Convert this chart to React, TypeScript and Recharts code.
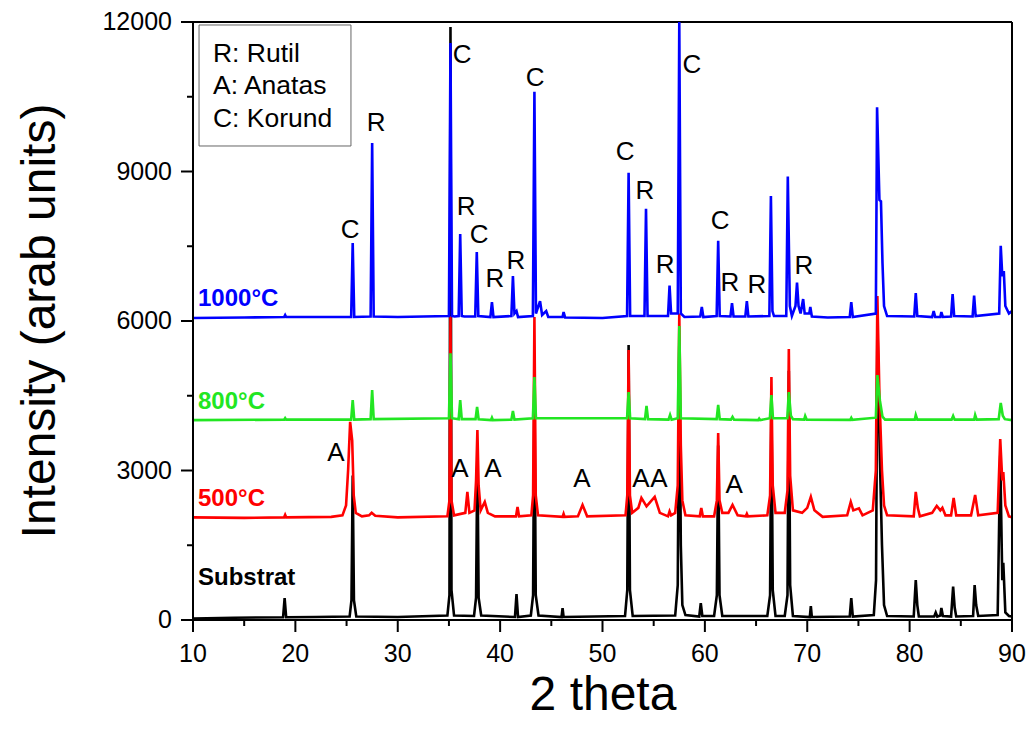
import React from 'react';
import { LineChart, Line, XAxis, YAxis, ReferenceDot, ReferenceArea, ReferenceLine } from 'recharts';

const FONT = '"Liberation Sans", Arial, Helvetica, sans-serif';

// 2 theta / intensity pairs, one list per sample
const substrat = [
  [10, 30], [14, 45], [18.8, 55], [18.95, 440], [19.1, 55], [22, 60], [25.3, 70], [25.48, 400], [25.6, 2900],
  [25.72, 400], [25.95, 70], [30, 60], [34.85, 90], [35.05, 500], [35.15, 11900], [35.25, 600], [35.5, 90],
  [37.45, 80], [37.65, 450], [37.78, 3400], [37.9, 450], [38.15, 90], [41.45, 60], [41.6, 520], [41.75, 60],
  [43.0, 90], [43.22, 500], [43.35, 4800], [43.48, 500], [43.75, 90], [46.0, 60], [46.1, 240], [46.2, 60],
  [52.2, 80], [52.42, 600], [52.55, 5520], [52.68, 600], [52.95, 80], [57.1, 90], [57.35, 700], [57.5, 5500],
  [57.65, 1500], [57.8, 300], [58.1, 100], [59.45, 70], [59.6, 340], [59.75, 80], [60.9, 80], [61.17, 500],
  [61.3, 3500], [61.43, 500], [61.7, 80], [66.1, 80], [66.37, 500], [66.5, 4500], [66.63, 600], [66.9, 80],
  [67.8, 80], [68.07, 500], [68.2, 5000], [68.33, 700], [68.6, 80], [70.25, 60], [70.35, 280], [70.45, 60],
  [74.15, 70], [74.3, 440], [74.45, 70], [76.5, 100], [76.72, 800], [76.85, 6000], [77.1, 3200], [77.3, 1500],
  [77.5, 300], [77.8, 80], [80.4, 70], [80.6, 800], [80.75, 300], [80.9, 70], [82.4, 70], [82.55, 150],
  [82.7, 70], [83.0, 90], [83.1, 240], [83.25, 80], [84.05, 70], [84.25, 670], [84.4, 250], [84.55, 70],
  [86.2, 80], [86.35, 700], [86.5, 300], [86.7, 80], [88.6, 100], [88.85, 3300], [89.05, 800], [89.15, 1150],
  [89.35, 150], [89.7, 80], [90, 70],
];

const c500 = [
  [10, 2060], [15, 2050], [18.9, 2060], [19.0, 2110], [19.1, 2060], [23.5, 2070], [24.6, 2100], [24.95, 2300],
  [25.15, 3000], [25.35, 3975], [25.55, 3600], [25.7, 2500], [25.9, 2150], [26.5, 2080], [27.2, 2100],
  [27.45, 2150], [27.8, 2090], [30, 2060], [34.85, 2080], [35.05, 2400], [35.15, 6100], [35.25, 2400],
  [35.5, 2100], [36.6, 2150], [36.8, 2570], [37.0, 2150], [37.5, 2200], [37.65, 2800], [37.78, 3810],
  [37.9, 2700], [38.1, 2200], [38.5, 2370], [38.8, 2150], [39.5, 2080], [41.55, 2080], [41.7, 2270],
  [41.85, 2080], [43.05, 2100], [43.22, 2500], [43.35, 6080], [43.48, 2500], [43.7, 2100], [46.1, 2070],
  [46.2, 2130], [46.3, 2070], [47.6, 2080], [48.05, 2310], [48.5, 2080], [52.25, 2100], [52.42, 2500],
  [52.55, 5420], [52.68, 2500], [52.9, 2150], [53.5, 2250], [53.8, 2450], [54.3, 2280], [55.1, 2470],
  [55.6, 2150], [56.4, 2080], [56.55, 2180], [56.7, 2100], [57.1, 2150], [57.35, 2700], [57.5, 6150],
  [57.65, 3500], [57.8, 2400], [58.1, 2100], [59.5, 2080], [59.65, 2250], [59.8, 2080], [60.9, 2080],
  [61.17, 2400], [61.3, 3750], [61.43, 2400], [61.7, 2150], [62.3, 2150], [62.7, 2310], [63.2, 2100],
  [64.0, 2080], [64.1, 2130], [64.2, 2080], [66.1, 2100], [66.37, 2500], [66.5, 4875], [66.63, 2700],
  [66.9, 2150], [67.8, 2150], [68.07, 2600], [68.2, 5440], [68.33, 2900], [68.6, 2200], [69.5, 2150],
  [70.0, 2250], [70.35, 2470], [70.7, 2200], [71.5, 2070], [73.9, 2100], [74.25, 2370], [74.5, 2200],
  [75.05, 2240], [75.4, 2100], [76.4, 2200], [76.7, 3000], [76.85, 6500], [77.05, 4500], [77.3, 3000],
  [77.5, 2300], [77.8, 2100], [80.4, 2080], [80.6, 2570], [80.8, 2250], [81.0, 2080], [82.2, 2150],
  [82.65, 2290], [83.0, 2200], [83.2, 2250], [83.5, 2100], [84.05, 2100], [84.3, 2450], [84.55, 2100],
  [86.0, 2100], [86.4, 2510], [86.7, 2100], [88.6, 2150], [88.85, 3630], [89.05, 2800], [89.15, 2970],
  [89.35, 2300], [89.7, 2080], [90, 2060],
];

const c800 = [
  [10, 4010], [18.9, 4020], [19.0, 4050], [19.1, 4020], [25.45, 4020], [25.6, 4415], [25.75, 4020],
  [27.35, 4030], [27.5, 4615], [27.65, 4030], [35.0, 4050], [35.15, 5350], [35.3, 4050], [35.95, 4030],
  [36.1, 4415], [36.25, 4030], [37.6, 4030], [37.75, 4275], [37.9, 4030], [39.1, 4010], [39.2, 4060],
  [39.3, 4010], [41.1, 4020], [41.25, 4195], [41.4, 4020], [43.2, 4050], [43.35, 4875], [43.5, 4050],
  [52.4, 4050], [52.55, 4575], [52.7, 4050], [54.15, 4030], [54.3, 4295], [54.45, 4030], [56.45, 4020],
  [56.6, 4115], [56.75, 4020], [57.35, 4050], [57.5, 5900], [57.65, 4050], [61.15, 4030], [61.3, 4315],
  [61.45, 4030], [62.55, 4020], [62.7, 4075], [62.85, 4020], [65.2, 4010], [65.3, 4040], [65.4, 4010],
  [66.35, 4050], [66.5, 4515], [66.65, 4050], [68.05, 4050], [68.2, 4575], [68.4, 4100], [68.6, 4030],
  [69.7, 4020], [69.8, 4095], [69.95, 4020], [74.2, 4015], [74.3, 4055], [74.4, 4015], [76.7, 4060],
  [76.85, 4915], [77.1, 4400], [77.35, 4080], [77.6, 4020], [80.5, 4020], [80.6, 4115], [80.75, 4020],
  [84.1, 4020], [84.25, 4095], [84.4, 4020], [86.3, 4020], [86.4, 4115], [86.55, 4020], [88.7, 4030],
  [88.9, 4355], [89.1, 4100], [89.3, 4030], [90, 4010],
];

const c1000 = [
  [10, 6060], [15, 6070], [18.9, 6080], [19.0, 6120], [19.1, 6080], [25.45, 6080], [25.6, 7565], [25.75, 6080],
  [27.35, 6090], [27.5, 9572], [27.65, 6090], [30, 6080], [35.0, 6100], [35.15, 11580], [35.3, 6100],
  [35.55, 6090], [35.95, 6100], [36.1, 7745], [36.25, 6100], [36.5, 6090], [37.57, 6090], [37.72, 7385],
  [37.87, 6100], [39.05, 6080], [39.2, 6380], [39.35, 6080], [41.1, 6100], [41.25, 6900], [41.4, 6150],
  [41.6, 6200], [41.75, 6080], [43.2, 6100], [43.35, 10600], [43.5, 6150], [43.9, 6400], [44.1, 6120],
  [44.5, 6200], [44.7, 6080], [46.1, 6080], [46.2, 6180], [46.35, 6070], [50, 6060], [52.4, 6100],
  [52.55, 8975], [52.7, 6100], [54.1, 6100], [54.25, 8250], [54.4, 6100], [56.4, 6100], [56.55, 6710],
  [56.7, 6150], [57.35, 6150], [57.5, 12000], [57.65, 6150], [58.0, 6080], [59.55, 6090], [59.7, 6280],
  [59.85, 6080], [61.15, 6100], [61.3, 7610], [61.45, 6100], [62.5, 6090], [62.65, 6360], [62.8, 6090],
  [63.95, 6090], [64.1, 6400], [64.25, 6090], [66.3, 6100], [66.45, 8510], [66.6, 6200], [66.75, 6100],
  [67.95, 6100], [68.1, 8900], [68.3, 6300], [68.5, 6100], [68.85, 6300], [69.0, 6770], [69.15, 6300],
  [69.35, 6150], [69.6, 6440], [69.75, 6150], [70.2, 6150], [70.3, 6280], [70.45, 6090], [72, 6070],
  [74.15, 6080], [74.3, 6380], [74.45, 6080], [76.7, 6150], [76.82, 10290], [77.05, 8430], [77.2, 8400],
  [77.35, 7160], [77.5, 6300], [77.8, 6100], [80.45, 6090], [80.6, 6560], [80.75, 6100], [82.2, 6080],
  [82.35, 6200], [82.5, 6080], [83.0, 6080], [83.1, 6180], [83.25, 6080], [84.05, 6090], [84.2, 6540],
  [84.35, 6100], [86.15, 6090], [86.3, 6510], [86.45, 6100], [88.75, 6150], [88.9, 7510], [89.05, 6900],
  [89.2, 7000], [89.35, 6300], [89.7, 6150], [90, 6200],
];

const xTicks = [10, 15, 20, 25, 30, 35, 40, 45, 50, 55, 60, 65, 70, 75, 80, 85, 90];
const yTicks = [0, 1500, 3000, 4500, 6000, 7500, 9000, 10500, 12000];

const seriesNames = ['Substrat', '500°C', '800°C', '1000°C'];
const seriesColors = ['#000000', '#ff0000', '#22e622', '#0000ff'];
const seriesData = [substrat, c500, c800, c1000];

const legendLines = ['R: Rutil', 'A: Anatas', 'C: Korund'];

// phase letters over the peaks (2 theta, intensity of letter centre)
const phaseMarks = [
  { x: 25.34, y: 7846, t: 'C' }, { x: 27.88, y: 9993, t: 'R' }, { x: 36.28, y: 11358, t: 'C' },
  { x: 36.67, y: 8308, t: 'R' }, { x: 37.94, y: 7746, t: 'C' }, { x: 39.5, y: 6863, t: 'R' },
  { x: 41.55, y: 7224, t: 'R' }, { x: 43.41, y: 10896, t: 'C' }, { x: 52.2, y: 9411, t: 'C' },
  { x: 54.15, y: 8629, t: 'R' }, { x: 56.11, y: 7144, t: 'R' }, { x: 58.74, y: 11157, t: 'C' },
  { x: 61.48, y: 8027, t: 'C' }, { x: 62.45, y: 6783, t: 'R' }, { x: 65.09, y: 6743, t: 'R' },
  { x: 69.68, y: 7124, t: 'R' }, { x: 23.97, y: 3371, t: 'A' }, { x: 36.08, y: 3050, t: 'A' },
  { x: 39.3, y: 3050, t: 'A' }, { x: 48.0, y: 2850, t: 'A' }, { x: 53.76, y: 2850, t: 'A' },
  { x: 55.52, y: 2850, t: 'A' }, { x: 62.85, y: 2729, t: 'A' },
];
const nameMarks = [
  { x: 10.49, y: 883 }, { x: 10.49, y: 2468 }, { x: 10.49, y: 4415 }, { x: 10.49, y: 6462 },
];

const LeftTick = (props: any) => {
  const { x, y, payload } = props;
  const major = payload.value % 3000 === 0;
  return (
    <g>
      <line x1={x - (major ? 12 : 6)} x2={x} y1={y} y2={y} stroke="#000" strokeWidth={2} />
      {major && (
        <text x={x - 21} y={y} dy="0.33em" textAnchor="end" fontSize={25} fontFamily={FONT} fill="#000">
          {payload.value}
        </text>
      )}
    </g>
  );
};

const RightTick = (props: any) => {
  const { x, y, payload } = props;
  const major = payload.value % 3000 === 0;
  return <line x1={x - (major ? 12 : 6)} x2={x} y1={y} y2={y} stroke="#000" strokeWidth={2} />;
};

const BottomTick = (props: any) => {
  const { x, y, payload } = props;
  const major = payload.value % 10 === 0;
  return (
    <g>
      <line x1={x} x2={x} y1={y} y2={y + (major ? 12 : 6)} stroke="#000" strokeWidth={2} />
      {major && (
        <text x={x} y={y + 42} textAnchor="middle" fontSize={25} fontFamily={FONT} fill="#000">
          {payload.value}
        </text>
      )}
    </g>
  );
};

export default function App() {
  return (
    <div style={{ position: 'absolute', left: 0, top: 0, width: 1027, height: 734, background: '#fff' }}>
      <LineChart width={1027} height={734} margin={{ top: 22, right: 14, bottom: 64, left: 113 }}>
        <XAxis
          type="number"
          dataKey="x"
          domain={[10, 90]}
          ticks={xTicks}
          interval={0}
          allowDataOverflow
          height={50}
          tickSize={0}
          tickMargin={0}
          tick={BottomTick}
          axisLine={{ stroke: '#000', strokeWidth: 2 }}
        />
        <YAxis
          type="number"
          domain={[0, 12000]}
          ticks={yTicks}
          interval={0}
          allowDataOverflow
          width={80}
          tickSize={0}
          tickMargin={0}
          tick={LeftTick}
          axisLine={{ stroke: '#000', strokeWidth: 2 }}
        />
        <YAxis
          yAxisId="right"
          orientation="right"
          type="number"
          domain={[0, 12000]}
          ticks={yTicks}
          interval={0}
          width={1}
          tickSize={0}
          tickMargin={0}
          tick={RightTick}
          axisLine={{ stroke: '#000', strokeWidth: 2 }}
        />
        <ReferenceLine y={12000} stroke="#000" strokeWidth={2} />
        <ReferenceArea
          x1={10.59}
          x2={25.43}
          y1={9512}
          y2={11940}
          fill="#fff"
          fillOpacity={1}
          stroke="#666"
          strokeWidth={1}
        />
        {legendLines.map((t, i) => (
          <ReferenceDot
            key={t}
            x={11.95}
            y={[11378, 10736, 10074][i]}
            r={0}
            fill="none"
            stroke="none"
            label={{ value: t, position: 'right', offset: 0, fontSize: 26.5, fill: '#000', fontFamily: FONT }}
          />
        ))}
        {seriesData.map((d, i) => (
          <Line
            key={seriesNames[i]}
            data={d.map(([x, y]) => ({ x, y }))}
            dataKey="y"
            name={seriesNames[i]}
            type="linear"
            stroke={seriesColors[i]}
            strokeWidth={2.6}
            dot={false}
            activeDot={false}
            isAnimationActive={false}
          />
        ))}
        {phaseMarks.map((m, i) => (
          <ReferenceDot
            key={'p' + i}
            x={m.x}
            y={m.y}
            r={0}
            fill="none"
            stroke="none"
            label={{ value: m.t, position: 'center', fontSize: 26, fill: '#000', fontFamily: FONT }}
          />
        ))}
        {nameMarks.map((m, i) => (
          <ReferenceDot
            key={'n' + i}
            x={m.x}
            y={m.y}
            r={0}
            fill="none"
            stroke="none"
            label={{
              value: seriesNames[i],
              position: 'right',
              offset: 0,
              fontSize: 24,
              fontWeight: 'bold',
              fill: seriesColors[i],
              fontFamily: FONT,
            }}
          />
        ))}
      </LineChart>
      <svg
        width={1027}
        height={734}
        style={{ position: 'absolute', left: 0, top: 0, pointerEvents: 'none' }}
      >
        <text x={603} y={710} textAnchor="middle" fontSize={48} fontFamily={FONT} fill="#000">
          2 theta
        </text>
        <text
          x={0}
          y={0}
          transform="translate(55 321) rotate(-90)"
          textAnchor="middle"
          fontSize={48}
          fontFamily={FONT}
          fill="#000"
        >
          Intensity (arab units)
        </text>
      </svg>
    </div>
  );
}
